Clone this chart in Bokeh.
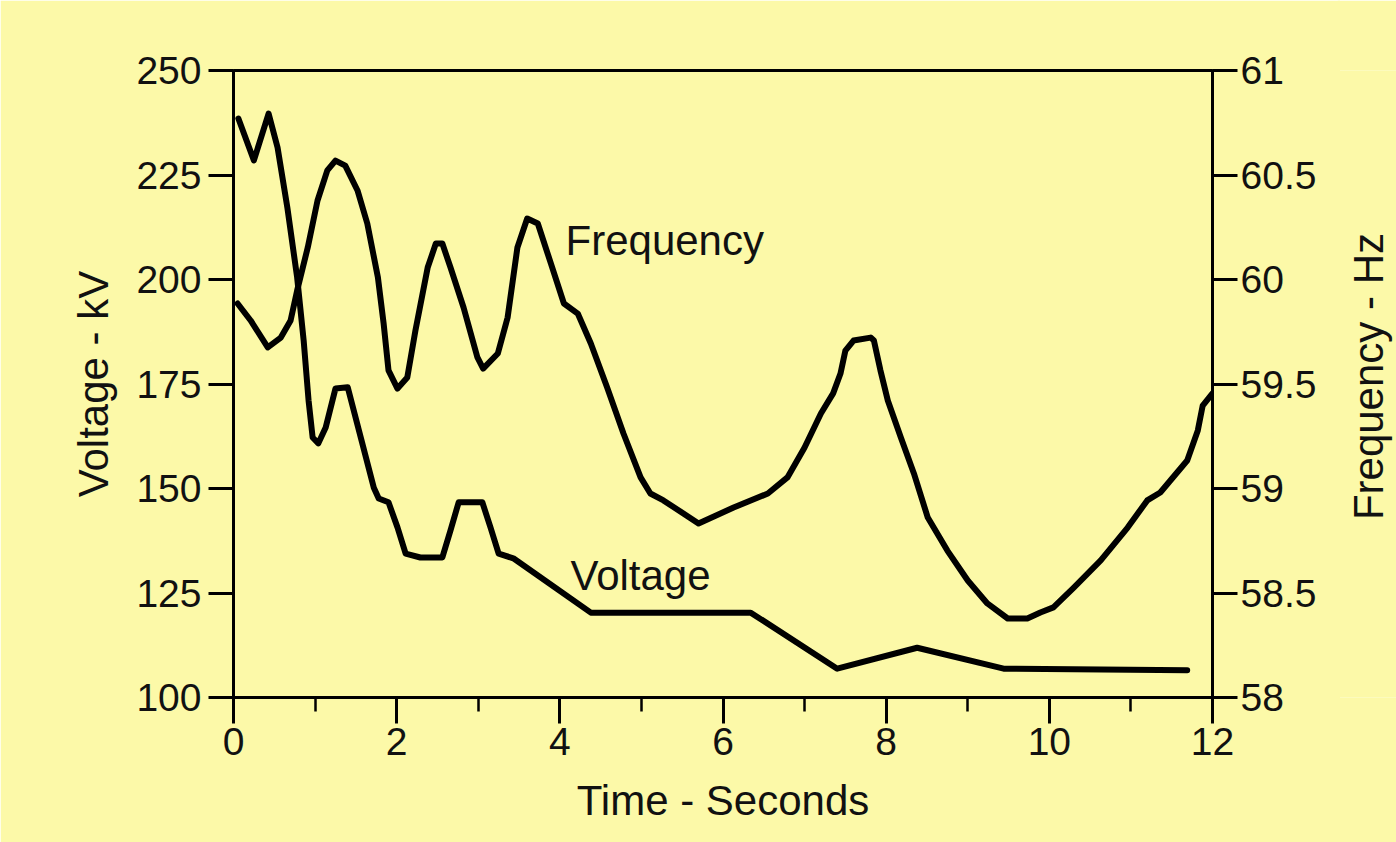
import math
from bokeh.plotting import figure
from bokeh.layouts import row
from bokeh.models import Range1d, LinearAxis, FixedTicker
from bokeh.core.properties import value
from bokeh.embed import file_html
from bokeh.resources import INLINE

# Voltage trace (kV) vs time (s)
volt_t = [0.06, 0.25, 0.43, 0.54, 0.66, 0.78, 0.86, 0.92, 0.97, 1.04, 1.13, 1.25, 1.40, 1.56, 1.72, 1.78, 1.90, 2.01, 2.11, 2.29, 2.56, 2.66, 2.76, 3.05, 3.15, 3.25, 3.43, 4.38, 6.34, 7.40, 8.38, 9.44, 11.69]
volt_v = [238.5, 228.5, 239.7, 231.6, 217.2, 200.5, 185.4, 171.1, 162.2, 160.8, 164.6, 173.9, 174.2, 162.2, 150.2, 147.6, 146.7, 140.7, 134.4, 133.5, 133.5, 140.0, 146.7, 146.7, 140.7, 134.4, 133.3, 120.3, 120.3, 106.9, 111.9, 106.9, 106.5]

# Frequency trace (Hz) vs time (s)
freq_t = [0.05, 0.21, 0.42, 0.58, 0.70, 0.78, 0.91, 1.03, 1.15, 1.25, 1.37, 1.52, 1.64, 1.77, 1.84, 1.90, 2.01, 2.13, 2.23, 2.38, 2.48, 2.56, 2.66, 2.82, 2.99, 3.06, 3.24, 3.36, 3.48, 3.60, 3.73, 3.89, 4.05, 4.22, 4.38, 4.58, 4.78, 4.99, 5.11, 5.27, 5.70, 6.13, 6.55, 6.79, 7.00, 7.20, 7.35, 7.44, 7.50, 7.60, 7.81, 7.85, 7.93, 8.02, 8.18, 8.34, 8.51, 8.75, 9.00, 9.24, 9.49, 9.73, 9.89, 10.05, 10.30, 10.63, 10.96, 11.20, 11.36, 11.69, 11.82, 11.88, 12.0]
freq_f = [59.885, 59.804, 59.675, 59.722, 59.804, 59.947, 60.153, 60.378, 60.522, 60.569, 60.545, 60.426, 60.268, 60.010, 59.790, 59.565, 59.478, 59.531, 59.756, 60.057, 60.172, 60.172, 60.057, 59.866, 59.627, 59.574, 59.646, 59.818, 60.153, 60.292, 60.268, 60.077, 59.885, 59.837, 59.694, 59.483, 59.263, 59.053, 58.976, 58.943, 58.833, 58.909, 58.976, 59.053, 59.196, 59.359, 59.455, 59.550, 59.660, 59.708, 59.722, 59.708, 59.565, 59.421, 59.244, 59.072, 58.861, 58.703, 58.560, 58.450, 58.378, 58.378, 58.407, 58.431, 58.526, 58.656, 58.813, 58.943, 58.981, 59.134, 59.278, 59.397, 59.455]

x_ticks = [0, 2, 4, 6, 8, 10, 12]
x_minor = [1, 3, 5, 7, 9, 11]
v_ticks = [100, 125, 150, 175, 200, 225, 250]
f_ticks = [58, 58.5, 59, 59.5, 60, 60.5, 61]
f_labels = ["58", "58.5", "59", "59.5", "60", "60.5", "61"]
right_title = "Frequency - Hz"

BG = "#FCF9A8"
FONT = "Liberation Sans"
INK = "#111111"
W_MAIN = 1340
OVERLAP = 3
W_SIDE = 1396 - W_MAIN + OVERLAP
H = 842

p = figure(width=W_MAIN, height=H, output_backend="svg", toolbar_location=None,
           x_range=Range1d(0, 12), y_range=Range1d(100, 250),
           min_border_left=233, min_border_right=W_MAIN - 1212, min_border_top=70, min_border_bottom=145)
p.background_fill_color = BG
p.border_fill_color = BG
p.outline_line_color = "black"
p.outline_line_width = 3
p.grid.visible = False
p.extra_y_ranges = {"freq": Range1d(58, 61)}

p.line(volt_t, volt_v, line_color="black", line_width=6, line_join="round", line_cap="round")
p.line(freq_t, freq_f, y_range_name="freq", line_color="black", line_width=6, line_join="round", line_cap="round")

p.text(x=[4.07], y=[209.3], text=["Frequency"], text_font=value(FONT), text_font_size="42px",
       text_align="left", text_baseline="middle", text_color=INK)
p.text(x=[4.13], y=[129.2], text=["Voltage"], text_font=value(FONT), text_font_size="42px",
       text_align="left", text_baseline="middle", text_color=INK)

right = LinearAxis(y_range_name="freq")
p.add_layout(right, "right")

xa = p.xaxis[0]
xa.ticker = FixedTicker(ticks=x_ticks, minor_ticks=x_minor)
xa.axis_label = "Time - Seconds"
xa.major_tick_out = 26
xa.minor_tick_out = 14
xa.major_label_standoff = 4
xa.axis_label_standoff = 19

ya = p.yaxis[0]
ya.ticker = FixedTicker(ticks=v_ticks, minor_ticks=[])
ya.axis_label = "Voltage - kV"
ya.major_tick_out = 25
ya.major_label_standoff = 7
ya.axis_label_standoff = 16

right.ticker = FixedTicker(ticks=f_ticks, minor_ticks=[])
right.major_label_overrides = {t: l for t, l in zip(f_ticks, f_labels)}
right.major_tick_out = 25
right.major_label_standoff = 3

for ax in (xa, ya, right):
    ax.axis_line_width = 3
    ax.major_tick_line_width = 3
    ax.minor_tick_line_width = 2.5
    ax.major_tick_in = 0
    ax.minor_tick_in = 0
    ax.major_label_text_font = FONT
    ax.major_label_text_font_size = "39px"
    ax.major_label_text_color = INK
    ax.axis_label_text_font = FONT
    ax.axis_label_text_font_size = "42px"
    ax.axis_label_text_font_style = "normal"
    ax.axis_label_text_color = INK

# narrow side panel carrying the right-hand axis title (reads bottom to top)
side_left = W_MAIN - OVERLAP
side = figure(width=W_SIDE, height=H, output_backend="svg", toolbar_location=None,
              x_range=Range1d(0, W_SIDE), y_range=Range1d(0, H),
              min_border_left=0, min_border_right=0, min_border_top=0, min_border_bottom=0)
side.margin = (0, 0, 0, -OVERLAP)
side.axis.visible = False
side.grid.visible = False
side.outline_line_color = None
side.background_fill_color = BG
side.border_fill_color = BG
side.text(x=[1368 - side_left], y=[H - 383 - 28], text=[right_title], angle=math.pi / 2,
          text_font=value(FONT), text_font_size="42px", text_align="center",
          text_baseline="middle", text_color=INK)

layout = row(p, side, spacing=0)
open("out.html", "w").write(file_html(layout, INLINE))
